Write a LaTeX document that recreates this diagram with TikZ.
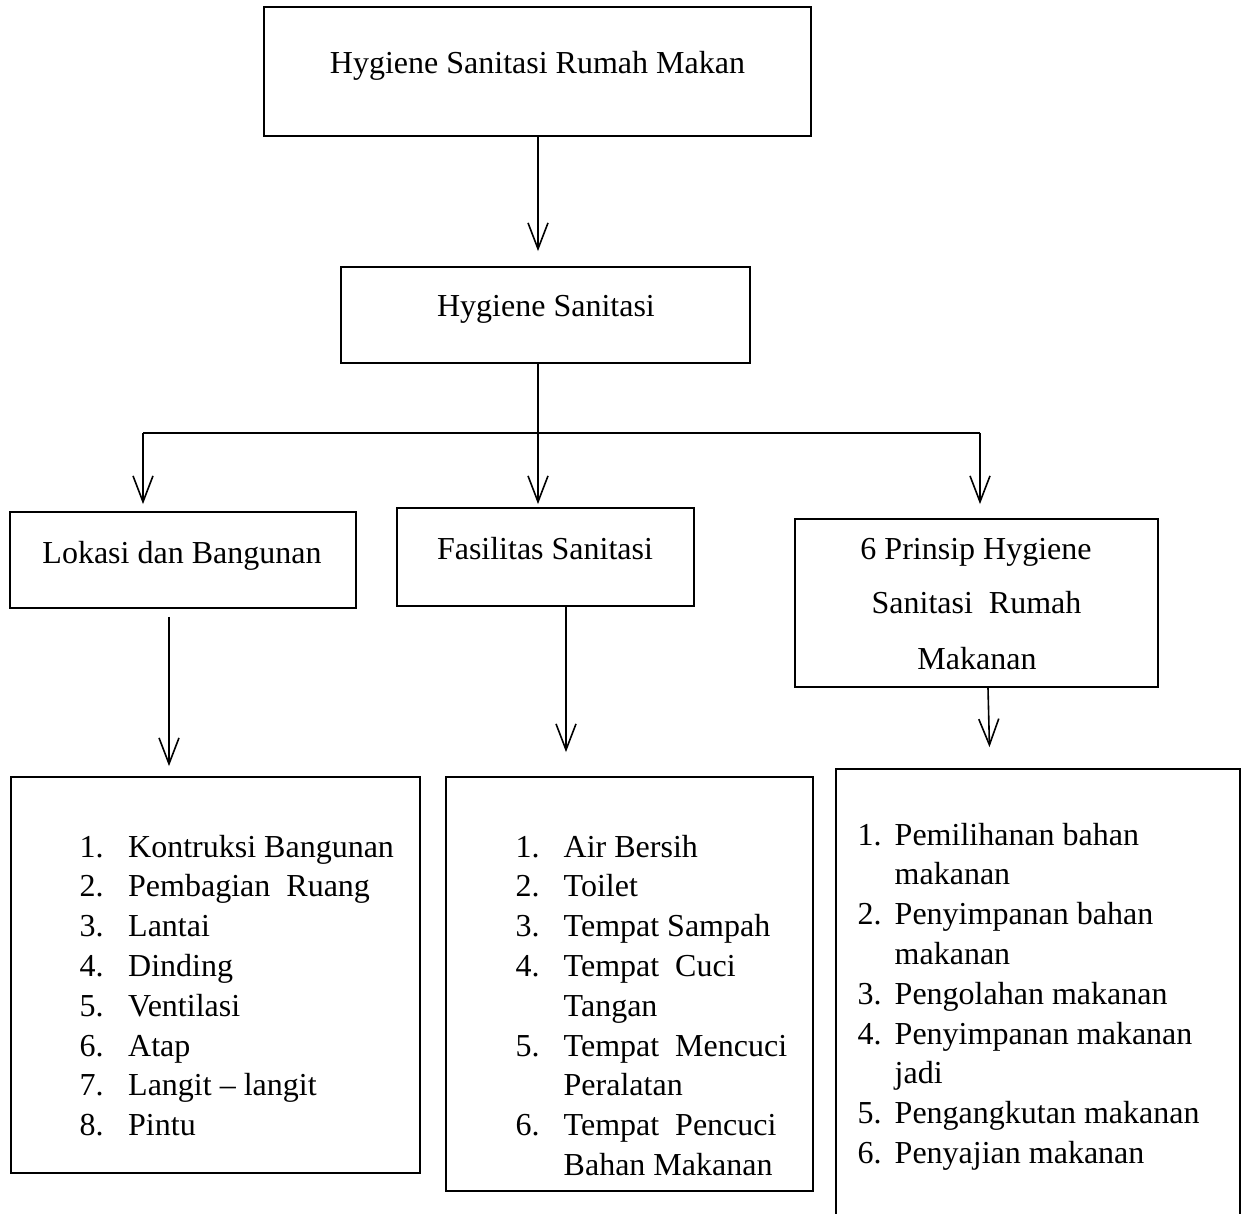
\documentclass[tikz,border=0pt]{standalone}
\usepackage{fontspec}
\setmainfont{Liberation Serif}
\usetikzlibrary{arrows.meta}
\begin{document}
\begin{tikzpicture}[x=1pt,y=-1pt,
  box/.style={draw, line width=1.8pt, rectangle, inner sep=0pt},
  conn/.style={line width=1.6pt},
  arr/.style={line width=1.6pt, -{Straight Barb[length=26pt,width=20pt,line width=1.6pt]}},
  lbl/.style={inner sep=0pt, anchor=base, font=\fontsize{32}{40}\selectfont},
  itm/.style={inner sep=0pt, anchor=base west, font=\fontsize{32}{40}\selectfont}]
\useasboundingbox (0,0) rectangle (1243,1214);
\clip (0,0) rectangle (1243,1214);
% boxes
\node[box, minimum width=547pt, minimum height=129pt] (b1) at (537.5,71.5) {};
\node[box, minimum width=409pt, minimum height=96pt] (b2) at (545.5,315) {};
\node[box, minimum width=346pt, minimum height=96pt] (b3) at (183,560) {};
\node[box, minimum width=297pt, minimum height=98pt] (b4) at (545.5,557) {};
\node[box, minimum width=363pt, minimum height=168pt] (b5) at (976.5,603) {};
\node[box, minimum width=409pt, minimum height=396pt] (b6) at (215.5,975) {};
\node[box, minimum width=367pt, minimum height=414pt] (b7) at (629.5,984) {};
\node[box, minimum width=404pt, minimum height=471pt] (b8) at (1038,1004.5) {};
% headings
\node[lbl] (t1) at (537.5,74) {Hygiene Sanitasi Rumah Makan};
\node[lbl] (t2) at (546,317) {Hygiene Sanitasi};
\node[lbl] (t3) at (182,563) {Lokasi dan Bangunan};
\node[lbl] (t4) at (545,559) {Fasilitas Sanitasi};
\node[lbl] (t5a) at (976,559) {6 Prinsip Hygiene};
\node[lbl] (t5b) at (976.5,613) {Sanitasi\ \ Rumah};
\node[lbl] (t5c) at (977,669) {Makanan};
% connectors
\coordinate (xa) at (538,0);
\coordinate (j) at (538,433);
\coordinate (jl) at (143,433);
\coordinate (jr) at (980,433);
\coordinate (xl) at (169,0);
\coordinate (xf) at (566,0);
\coordinate (xp1) at (988,0);
\coordinate (xp2) at (990,0);
\draw[arr, shorten >=15pt] (b1.south -| xa) -- (b2.north -| xa);
\draw[conn] (b2.south -| xa) -- (j);
\draw[conn] (jl) -- (jr);
\draw[arr, shorten >=7pt] (jl) -- (b3.north -| jl);
\draw[arr, shorten >=3pt] (j) -- (b4.north -| j);
\draw[arr, shorten >=14pt] (jr) -- (b5.north -| jr);
\draw[arr, shorten <=8pt, shorten >=10pt] (b3.south -| xl) -- (b6.north -| xl);
\draw[arr, shorten >=24pt] (b4.south -| xf) -- (b7.north -| xf);
\draw[arr, shorten >=21pt] (b5.south -| xp1) -- (b8.north -| xp2);
% list 1
\foreach \i/\t in {1/Kontruksi Bangunan,2/Pembagian\ \ Ruang,3/Lantai,4/Dinding,5/Ventilasi,6/Atap,7/Langit -- langit,8/Pintu}{
  \node[itm] (la\i) at (79.5,857+39.8*\i-39.8) {\i.};
  \node[itm] (lat\i) at (128,857+39.8*\i-39.8) {\t};
}
% list 2
\foreach \i/\k in {1/1,2/2,3/3,4/4,5/6,6/8}{
  \node[itm] (lb\i) at (515.5,857+39.8*\k-39.8) {\i.};
}
\foreach \k/\t in {1/Air Bersih,2/Toilet,3/Tempat Sampah,4/Tempat\ \ Cuci,5/Tangan,6/Tempat\ \ Mencuci,7/Peralatan,8/Tempat\ \ Pencuci,9/Bahan Makanan}{
  \node[itm] (lbt\k) at (563.5,857+39.8*\k-39.8) {\t};
}
% list 3
\foreach \i/\k in {1/1,2/3,3/5,4/6,5/8,6/9}{
  \node[itm] (lc\i) at (857.5,845+39.8*\k-39.8) {\i.};
}
\foreach \k/\t in {1/Pemilihanan bahan,2/makanan,3/Penyimpanan bahan,4/makanan,5/Pengolahan makanan,6/Penyimpanan makanan,7/jadi,8/Pengangkutan makanan,9/Penyajian makanan}{
  \node[itm] (lct\k) at (894.5,845+39.8*\k-39.8) {\t};
}
\end{tikzpicture}
\end{document}
